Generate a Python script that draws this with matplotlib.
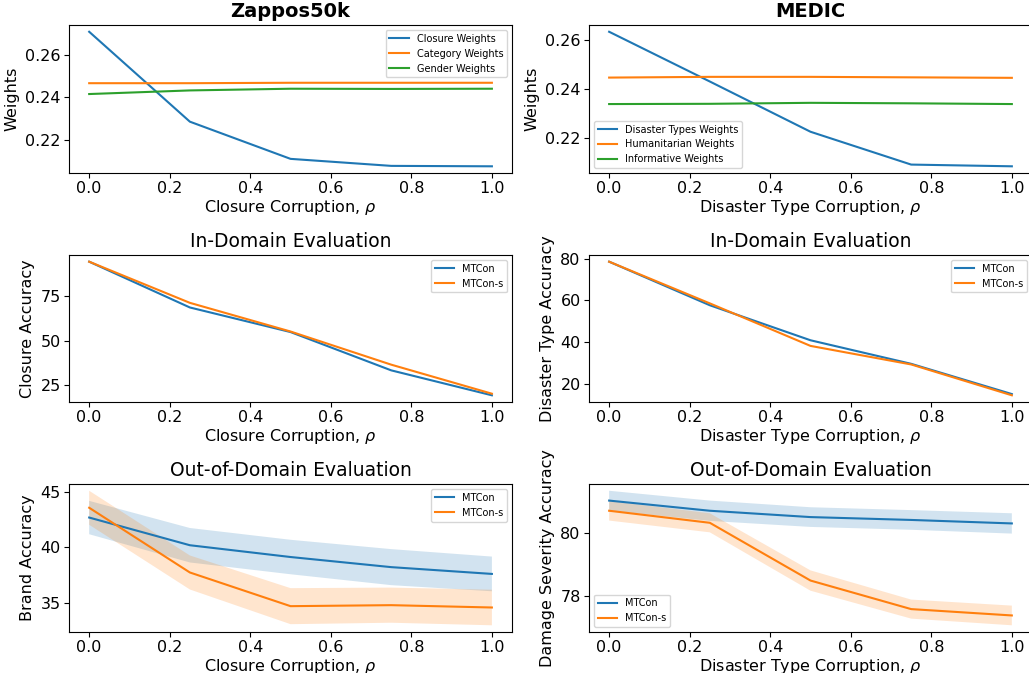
import numpy as np
import matplotlib
matplotlib.use("Agg")
import matplotlib.pyplot as plt

rho = [0.0, 0.25, 0.5, 0.75, 1.0]

# task weights
zap_closure_w = [0.2707, 0.2284, 0.2109, 0.2076, 0.2074]
zap_category_w = [0.2465, 0.2465, 0.2467, 0.2467, 0.2467]
zap_gender_w = [0.2414, 0.2431, 0.2439, 0.2438, 0.2439]

medic_disaster_w = [0.2633, 0.2430, 0.2225, 0.2091, 0.2084]
medic_human_w = [0.2446, 0.2449, 0.2449, 0.2447, 0.2445]
medic_inform_w = [0.2338, 0.2339, 0.2343, 0.2341, 0.2338]

# in-domain accuracy
zap_in_mtcon = [94.4, 68.7, 54.9, 33.4, 19.4]
zap_in_mtcons = [94.4, 71.3, 55.2, 36.6, 20.3]
medic_in_mtcon = [78.5, 57.6, 40.8, 29.5, 15.0]
medic_in_mtcons = [78.5, 58.5, 38.1, 29.2, 14.4]

# out-of-domain accuracy (mean, std)
zap_out_mtcon = [42.67, 40.18, 39.12, 38.21, 37.60]
zap_out_mtcon_sd = [1.50, 1.55, 1.55, 1.62, 1.56]
zap_out_mtcons = [43.55, 37.73, 34.70, 34.79, 34.58]
zap_out_mtcons_sd = [1.53, 1.53, 1.62, 1.58, 1.60]

medic_out_mtcon = [81.01, 80.69, 80.49, 80.40, 80.29]
medic_out_mtcon_sd = [0.31, 0.32, 0.31, 0.31, 0.32]
medic_out_mtcons = [80.69, 80.31, 78.49, 77.59, 77.39]
medic_out_mtcons_sd = [0.31, 0.30, 0.32, 0.30, 0.31]

TICK = 11.5
LAB = 11.5
TTL = 13.5
LEG = 7

fig = plt.figure(figsize=(10.29, 6.73), dpi=100)

lefts = [0.0671, 0.5724]
w = 0.4305
rows = [(0.7429, 0.2199), (0.4027, 0.2184), (0.0609, 0.2199)]
axs = [[fig.add_axes([l, b, w, h]) for l in lefts] for (b, h) in rows]

x = np.array(rho)

# row 1: weights
ax = axs[0][0]
ax.plot(rho, zap_closure_w, label="Closure Weights")
ax.plot(rho, zap_category_w, label="Category Weights")
ax.plot(rho, zap_gender_w, label="Gender Weights")
ax.set_title("Zappos50k", fontsize=14, fontweight="bold")
ax.set_ylabel("Weights", fontsize=LAB)
ax.set_yticks([0.22, 0.24, 0.26])
ax.legend(loc="upper right", fontsize=LEG)

ax = axs[0][1]
ax.plot(rho, medic_disaster_w, label="Disaster Types Weights")
ax.plot(rho, medic_human_w, label="Humanitarian Weights")
ax.plot(rho, medic_inform_w, label="Informative Weights")
ax.set_title("MEDIC", fontsize=14, fontweight="bold")
ax.set_ylabel("Weights", fontsize=LAB)
ax.set_yticks([0.22, 0.24, 0.26])
ax.legend(loc="lower left", fontsize=LEG)

# row 2: in-domain
ax = axs[1][0]
ax.plot(rho, zap_in_mtcon, label="MTCon")
ax.plot(rho, zap_in_mtcons, label="MTCon-s")
ax.set_title("In-Domain Evaluation", fontsize=TTL)
ax.set_ylabel("Closure Accuracy", fontsize=LAB)
ax.set_yticks([25, 50, 75])
ax.legend(loc="upper right", fontsize=LEG)

ax = axs[1][1]
ax.plot(rho, medic_in_mtcon, label="MTCon")
ax.plot(rho, medic_in_mtcons, label="MTCon-s")
ax.set_title("In-Domain Evaluation", fontsize=TTL)
ax.set_ylabel("Disaster Type Accuracy", fontsize=LAB)
ax.set_yticks([20, 40, 60, 80])
ax.legend(loc="upper right", fontsize=LEG)

# row 3: out-of-domain
ax = axs[2][0]
m1, s1 = np.array(zap_out_mtcon), np.array(zap_out_mtcon_sd)
m2, s2 = np.array(zap_out_mtcons), np.array(zap_out_mtcons_sd)
ax.plot(x, m1, label="MTCon")
ax.fill_between(x, m1 - s1, m1 + s1, alpha=0.2)
ax.plot(x, m2, label="MTCon-s")
ax.fill_between(x, m2 - s2, m2 + s2, alpha=0.2)
ax.set_title("Out-of-Domain Evaluation", fontsize=TTL)
ax.set_ylabel("Brand Accuracy", fontsize=LAB)
ax.set_yticks([35, 40, 45])
ax.legend(loc="upper right", fontsize=LEG)

ax = axs[2][1]
m1, s1 = np.array(medic_out_mtcon), np.array(medic_out_mtcon_sd)
m2, s2 = np.array(medic_out_mtcons), np.array(medic_out_mtcons_sd)
ax.plot(x, m1, label="MTCon")
ax.fill_between(x, m1 - s1, m1 + s1, alpha=0.2)
ax.plot(x, m2, label="MTCon-s")
ax.fill_between(x, m2 - s2, m2 + s2, alpha=0.2)
ax.set_title("Out-of-Domain Evaluation", fontsize=TTL)
ax.set_ylabel("Damage Severity Accuracy", fontsize=LAB)
ax.set_yticks([78, 80])
ax.legend(loc="lower left", fontsize=LEG)

for r in range(3):
    for c in range(2):
        ax = axs[r][c]
        xl = "Closure Corruption, $\\rho$" if c == 0 else "Disaster Type Corruption, $\\rho$"
        ax.set_xlabel(xl, fontsize=LAB, labelpad=1)
        ax.tick_params(labelsize=TICK, pad=2.5)
        ax.set_xticks([0.0, 0.2, 0.4, 0.6, 0.8, 1.0])

fig.savefig("out.png", dpi=100)
